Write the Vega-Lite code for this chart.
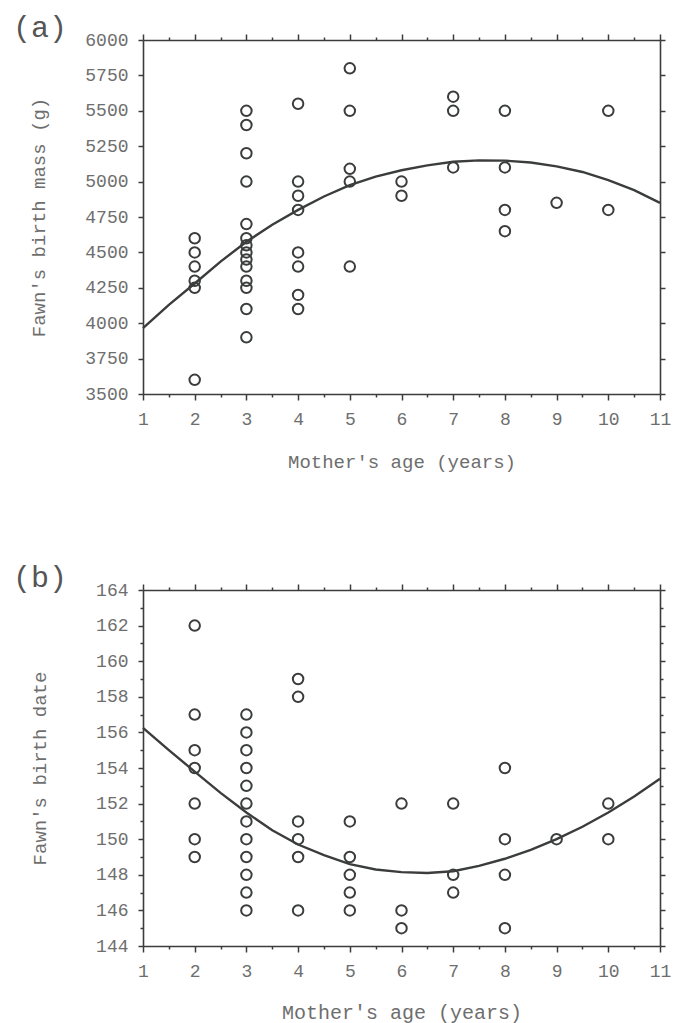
{
  "$schema": "https://vega.github.io/schema/vega-lite/v6.json",
  "padding": {"left": 13, "top": 13, "right": 5, "bottom": 2},
  "config": {
    "view": {"stroke": null},
    "font": "Liberation Mono",
    "axis": {"grid": false, "domainColor": "#3a3d3b", "domainWidth": 1.6, "tickColor": "#3a3d3b", "tickWidth": 1.5, "labelColor": "#6e6e6e", "labelFont": "Liberation Mono", "labelFontSize": 18, "titleFont": "Liberation Mono", "titleFontSize": 19, "titleFontWeight": "normal", "titleColor": "#6e6e6e", "labelFlush": false, "labelOverlap": false, "format": "d"},
    "title": {"font": "Liberation Mono", "fontSize": 30, "fontWeight": "normal", "color": "#555555"}
  },
  "spacing": 92,
  "datasets": {
    "points_a": [
      {"age": 2, "mass": 4600}, {"age": 2, "mass": 4500}, {"age": 2, "mass": 4400}, {"age": 2, "mass": 4300}, {"age": 2, "mass": 4250}, {"age": 2, "mass": 3600},
      {"age": 3, "mass": 5500}, {"age": 3, "mass": 5400}, {"age": 3, "mass": 5200}, {"age": 3, "mass": 5000}, {"age": 3, "mass": 4700}, {"age": 3, "mass": 4600}, {"age": 3, "mass": 4550}, {"age": 3, "mass": 4500}, {"age": 3, "mass": 4450}, {"age": 3, "mass": 4400}, {"age": 3, "mass": 4300}, {"age": 3, "mass": 4250}, {"age": 3, "mass": 4100}, {"age": 3, "mass": 3900},
      {"age": 4, "mass": 5550}, {"age": 4, "mass": 5000}, {"age": 4, "mass": 4900}, {"age": 4, "mass": 4800}, {"age": 4, "mass": 4500}, {"age": 4, "mass": 4400}, {"age": 4, "mass": 4200}, {"age": 4, "mass": 4100},
      {"age": 5, "mass": 5800}, {"age": 5, "mass": 5500}, {"age": 5, "mass": 5090}, {"age": 5, "mass": 5000}, {"age": 5, "mass": 4400},
      {"age": 6, "mass": 5000}, {"age": 6, "mass": 4900},
      {"age": 7, "mass": 5600}, {"age": 7, "mass": 5500}, {"age": 7, "mass": 5100},
      {"age": 8, "mass": 5500}, {"age": 8, "mass": 5100}, {"age": 8, "mass": 4800}, {"age": 8, "mass": 4650},
      {"age": 9, "mass": 4850},
      {"age": 10, "mass": 5500}, {"age": 10, "mass": 4800}
    ],
    "curve_a": [
      {"age": 1, "mass": 3965}, {"age": 1.5, "mass": 4130}, {"age": 2, "mass": 4280}, {"age": 2.5, "mass": 4435}, {"age": 3, "mass": 4575}, {"age": 3.5, "mass": 4695}, {"age": 4, "mass": 4800}, {"age": 4.5, "mass": 4895}, {"age": 5, "mass": 4975}, {"age": 5.5, "mass": 5035}, {"age": 6, "mass": 5080}, {"age": 6.5, "mass": 5115}, {"age": 7, "mass": 5140}, {"age": 7.5, "mass": 5150}, {"age": 8, "mass": 5148}, {"age": 8.5, "mass": 5135}, {"age": 9, "mass": 5108}, {"age": 9.5, "mass": 5068}, {"age": 10, "mass": 5010}, {"age": 10.5, "mass": 4940}, {"age": 11, "mass": 4850}
    ],
    "points_b": [
      {"age": 2, "date": 162}, {"age": 2, "date": 157}, {"age": 2, "date": 155}, {"age": 2, "date": 154}, {"age": 2, "date": 152}, {"age": 2, "date": 150}, {"age": 2, "date": 149},
      {"age": 3, "date": 157}, {"age": 3, "date": 156}, {"age": 3, "date": 155}, {"age": 3, "date": 154}, {"age": 3, "date": 153}, {"age": 3, "date": 152}, {"age": 3, "date": 151}, {"age": 3, "date": 150}, {"age": 3, "date": 149}, {"age": 3, "date": 148}, {"age": 3, "date": 147}, {"age": 3, "date": 146},
      {"age": 4, "date": 159}, {"age": 4, "date": 158}, {"age": 4, "date": 151}, {"age": 4, "date": 150}, {"age": 4, "date": 149}, {"age": 4, "date": 146},
      {"age": 5, "date": 151}, {"age": 5, "date": 149}, {"age": 5, "date": 148}, {"age": 5, "date": 147}, {"age": 5, "date": 146},
      {"age": 6, "date": 152}, {"age": 6, "date": 146}, {"age": 6, "date": 145},
      {"age": 7, "date": 152}, {"age": 7, "date": 148}, {"age": 7, "date": 147},
      {"age": 8, "date": 154}, {"age": 8, "date": 150}, {"age": 8, "date": 148}, {"age": 8, "date": 145},
      {"age": 9, "date": 150},
      {"age": 10, "date": 152}, {"age": 10, "date": 150}
    ],
    "curve_b": [
      {"age": 1, "date": 156.25}, {"age": 1.5, "date": 155.0}, {"age": 2, "date": 153.8}, {"age": 2.5, "date": 152.6}, {"age": 3, "date": 151.5}, {"age": 3.5, "date": 150.5}, {"age": 4, "date": 149.7}, {"age": 4.5, "date": 149.1}, {"age": 5, "date": 148.6}, {"age": 5.5, "date": 148.3}, {"age": 6, "date": 148.15}, {"age": 6.5, "date": 148.1}, {"age": 7, "date": 148.2}, {"age": 7.5, "date": 148.5}, {"age": 8, "date": 148.9}, {"age": 8.5, "date": 149.4}, {"age": 9, "date": 150.0}, {"age": 9.5, "date": 150.7}, {"age": 10, "date": 151.5}, {"age": 10.5, "date": 152.4}, {"age": 11, "date": 153.4}
    ]
  },
  "vconcat": [
    {
      "title": {"text": "(a)", "anchor": "start", "frame": "group", "dx": -130, "baseline": "alphabetic", "offset": -36},
      "width": 517,
      "height": 354,
      "layer": [
        {
          "data": {"name": "points_a"},
          "mark": {"type": "point", "shape": "circle", "size": 110, "strokeWidth": 2, "color": "#3a3d3b", "opacity": 1},
          "encoding": {
            "x": {"field": "age", "type": "quantitative", "scale": {"domain": [1, 11], "nice": false, "zero": false},
              "axis": {"orient": "bottom", "title": "Mother's age (years)", "values": [1, 1.5, 2, 2.5, 3, 3.5, 4, 4.5, 5, 5.5, 6, 6.5, 7, 7.5, 8, 8.5, 9, 9.5, 10, 10.5, 11],
                "labelExpr": "datum.value % 1 === 0 ? datum.label : ''", "tickSize": {"condition": {"test": "datum.value % 1 === 0", "value": 6}, "value": 3}, "labelPadding": 10, "titlePadding": 24}},
            "y": {"field": "mass", "type": "quantitative", "scale": {"domain": [3500, 6000], "nice": false, "zero": false},
              "axis": {"orient": "left", "title": "Fawn's birth mass (g)", "values": [3500, 3750, 4000, 4250, 4500, 4750, 5000, 5250, 5500, 5750, 6000], "tickSize": 5, "labelPadding": 10, "titlePadding": 36}}
          }
        },
        {
          "data": {"name": "curve_a"},
          "mark": {"type": "line", "color": "#3a3d3b", "strokeWidth": 2.4},
          "encoding": {
            "x": {"field": "age", "type": "quantitative", "scale": {"domain": [1, 11], "nice": false, "zero": false},
              "axis": {"orient": "top", "title": null, "labels": false, "values": [1, 1.5, 2, 2.5, 3, 3.5, 4, 4.5, 5, 5.5, 6, 6.5, 7, 7.5, 8, 8.5, 9, 9.5, 10, 10.5, 11],
                "tickSize": {"condition": {"test": "datum.value % 1 === 0", "value": 6}, "value": 3}}},
            "y": {"field": "mass", "type": "quantitative", "scale": {"domain": [3500, 6000], "nice": false, "zero": false},
              "axis": {"orient": "right", "title": null, "labels": false, "values": [3500, 3750, 4000, 4250, 4500, 4750, 5000, 5250, 5500, 5750, 6000], "tickSize": 5}}
          }
        }
      ],
      "resolve": {"scale": {"x": "independent", "y": "independent"}}
    },
    {
      "title": {"text": "(b)", "anchor": "start", "frame": "group", "dx": -130, "baseline": "alphabetic", "offset": -36},
      "width": 517,
      "height": 356,
      "layer": [
        {
          "data": {"name": "points_b"},
          "mark": {"type": "point", "shape": "circle", "size": 110, "strokeWidth": 2, "color": "#3a3d3b", "opacity": 1},
          "encoding": {
            "x": {"field": "age", "type": "quantitative", "scale": {"domain": [1, 11], "nice": false, "zero": false},
              "axis": {"orient": "bottom", "title": "Mother's age (years)", "values": [1, 1.5, 2, 2.5, 3, 3.5, 4, 4.5, 5, 5.5, 6, 6.5, 7, 7.5, 8, 8.5, 9, 9.5, 10, 10.5, 11],
                "labelExpr": "datum.value % 1 === 0 ? datum.label : ''", "tickSize": {"condition": {"test": "datum.value % 1 === 0", "value": 6}, "value": 3}, "labelPadding": 10, "titlePadding": 22, "titleFontSize": 20}},
            "y": {"field": "date", "type": "quantitative", "scale": {"domain": [144, 164], "nice": false, "zero": false},
              "axis": {"orient": "left", "title": "Fawn's birth date", "values": [144, 145, 146, 147, 148, 149, 150, 151, 152, 153, 154, 155, 156, 157, 158, 159, 160, 161, 162, 163, 164],
                "labelExpr": "datum.value % 2 === 0 ? datum.label : ''", "tickSize": {"condition": {"test": "datum.value % 2 === 0", "value": 5}, "value": 3}, "labelPadding": 10, "titlePadding": 46}}
          }
        },
        {
          "data": {"name": "curve_b"},
          "mark": {"type": "line", "color": "#3a3d3b", "strokeWidth": 2.4},
          "encoding": {
            "x": {"field": "age", "type": "quantitative", "scale": {"domain": [1, 11], "nice": false, "zero": false},
              "axis": {"orient": "top", "title": null, "labels": false, "values": [1, 1.5, 2, 2.5, 3, 3.5, 4, 4.5, 5, 5.5, 6, 6.5, 7, 7.5, 8, 8.5, 9, 9.5, 10, 10.5, 11],
                "tickSize": {"condition": {"test": "datum.value % 1 === 0", "value": 6}, "value": 3}}},
            "y": {"field": "date", "type": "quantitative", "scale": {"domain": [144, 164], "nice": false, "zero": false},
              "axis": {"orient": "right", "title": null, "labels": false, "values": [144, 145, 146, 147, 148, 149, 150, 151, 152, 153, 154, 155, 156, 157, 158, 159, 160, 161, 162, 163, 164],
                "tickSize": {"condition": {"test": "datum.value % 2 === 0", "value": 5}, "value": 3}}}
          }
        }
      ],
      "resolve": {"scale": {"x": "independent", "y": "independent"}}
    }
  ]
}
